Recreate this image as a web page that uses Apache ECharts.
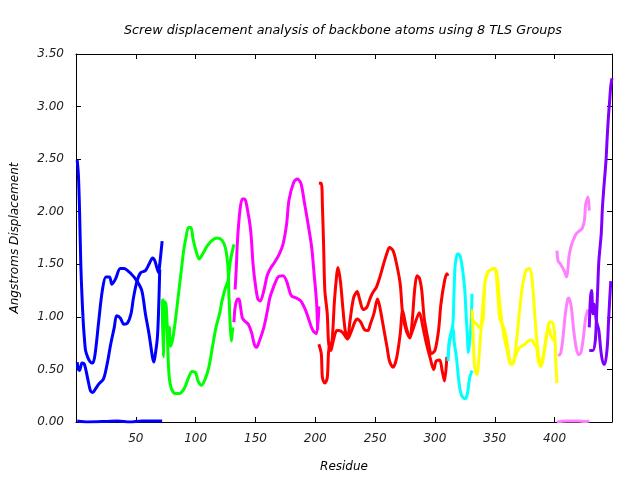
<!DOCTYPE html>
<html>
<head>
<meta charset="utf-8">
<script src="https://cdn.jsdelivr.net/npm/echarts@6/dist/echarts.min.js"></script>
<style>html,body{margin:0;padding:0;background:#fff}#c{width:640px;height:480px}</style>
</head>
<body>
<div id="c"></div>
<script>
const titleText = 'Screw displacement analysis of backbone atoms using 8 TLS Groups';
const xName = 'Residue';
const yName = 'Angstroms Displacement';
const xTicks = [50, 100, 150, 200, 250, 300, 350, 400];
const yTicks = [0, 0.5, 1, 1.5, 2, 2.5, 3, 3.5];

const blueA = [[1,2.49],[2,2.35],[3,2.0],[4,1.5],[5,1.2],[6,0.96],[7,0.80],[8,0.68],[10,0.61],[12,0.57],[14,0.56],[16,0.65],[19,0.96],[22,1.25],[25,1.38],[28,1.38],[30,1.31],[33,1.36],[37,1.46],[40,1.46],[46,1.41],[51,1.34],[55,1.25],[58,1.03],[61,0.84],[64,0.61],[65,0.57],[66,0.62],[68,0.80],[69,1.05],[70,1.45]];
const blueB = [[1,0.57],[2,0.50],[3,0.49],[5,0.56],[7,0.55],[10,0.40],[12,0.30],[14,0.28],[16,0.31],[19,0.36],[23,0.41],[26,0.55],[29,0.74],[32,0.90],[34,1.01],[37,0.99],[40,0.93],[43,0.94],[46,1.03],[48,1.18],[51,1.34],[54,1.42],[58,1.44],[61,1.50],[64,1.56],[66,1.53],[69,1.42],[70,1.50],[72,1.72]];
const blueC = [[1,0.01],[10,0.0],[25,0.005],[35,0.01],[45,0.0],[55,0.01],[65,0.01],[72,0.01]];

const greenA = [[72,1.15],[73,0.62],[74,1.12],[75,1.10],[77,0.77],[78,0.90],[79,0.72],[81,0.80],[83,0.96],[86,1.25],[88,1.44],[90,1.63],[92,1.76],[94,1.85],[96,1.85],[98,1.73],[101,1.60],[103,1.55],[106,1.60],[110,1.68],[114,1.73],[118,1.75],[122,1.73],[125,1.65],[127,1.47],[128,1.15],[130,0.77],[131,0.90]];
const greenB = [[72,1.17],[73,1.15],[75,1.13],[76,0.95],[77,0.61],[78,0.42],[80,0.31],[83,0.27],[86,0.27],[88,0.28],[91,0.33],[94,0.42],[97,0.48],[100,0.47],[102,0.39],[105,0.35],[108,0.41],[111,0.52],[114,0.71],[117,0.90],[120,1.03],[122,1.15],[125,1.28],[127,1.34],[129,1.53],[132,1.69]];

const magentaA = [[133,1.26],[134,1.47],[135,1.73],[137,2.01],[139,2.12],[141,2.12],[143,2.04],[146,1.82],[148,1.50],[150,1.30],[152,1.17],[154,1.15],[157,1.25],[160,1.40],[163,1.47],[166,1.52],[170,1.60],[173,1.69],[176,1.88],[178,2.11],[182,2.28],[185,2.31],[188,2.27],[191,2.08],[194,1.88],[197,1.66],[199,1.41],[201,1.15],[202,0.88]];
const magentaB = [[132,0.95],[133,1.09],[135,1.17],[136,1.17],[139,0.99],[141,0.96],[144,0.93],[147,0.84],[149,0.74],[151,0.71],[153,0.76],[157,0.90],[160,1.06],[162,1.18],[165,1.28],[169,1.38],[173,1.39],[176,1.34],[180,1.20],[184,1.18],[188,1.15],[192,1.06],[195,0.96],[198,0.87],[201,0.84],[203,1.10]];

const redA = [[203,2.27],[205,2.27],[206,2.04],[207,1.66],[208,1.25],[210,1.03],[211,0.77],[212,0.71],[214,0.77],[216,1.15],[218,1.41],[219,1.47],[221,1.34],[223,1.09],[225,0.87],[227,0.80],[229,0.96],[232,1.18],[235,1.24],[237,1.17],[240,1.07],[243,1.09],[246,1.18],[248,1.23],[251,1.28],[254,1.38],[257,1.50],[260,1.61],[262,1.66],[265,1.63],[268,1.50],[271,1.31],[273,1.03],[276,0.87],[279,0.80],[281,0.96],[283,1.25],[285,1.39],[287,1.37],[289,1.25],[291,0.99],[294,0.80],[297,0.65],[300,0.68],[303,0.87],[305,1.12],[308,1.34],[310,1.41],[311,1.39]];
const redB = [[203,0.74],[205,0.65],[206,0.42],[208,0.37],[210,0.42],[211,0.65],[212,0.75],[213,0.68],[215,0.77],[218,0.87],[220,0.87],[223,0.85],[227,0.79],[230,0.86],[233,0.95],[235,0.98],[238,0.95],[241,0.88],[244,0.87],[246,0.93],[249,1.03],[252,1.17],[254,1.09],[257,0.90],[260,0.71],[262,0.58],[265,0.52],[268,0.61],[271,0.84],[273,1.06],[276,0.90],[279,0.81],[281,0.86],[284,0.96],[287,1.04],[290,0.90],[293,0.74],[296,0.61],[299,0.50],[301,0.58],[304,0.59],[306,0.49],[308,0.39],[310,0.62]];

const cyanA = [[311,0.62],[312,0.75],[313,0.80],[315,0.93],[316,1.25],[317,1.50],[319,1.60],[321,1.58],[323,1.46],[325,1.25],[326,1.03],[327,0.84],[328,0.66],[330,0.90],[331,1.22]];
const cyanB = [[311,0.58],[312,0.77],[314,0.87],[315,0.90],[316,0.77],[318,0.61],[320,0.39],[322,0.26],[325,0.22],[327,0.26],[329,0.42],[331,0.49]];

const yellowA = [[331,1.07],[332,0.80],[333,0.55],[335,0.45],[336,0.50],[338,0.80],[340,1.10],[342,1.34],[344,1.42],[347,1.45],[350,1.46],[352,1.40],[354,1.15],[356,0.95],[358,0.80],[361,0.65],[363,0.55],[365,0.55],[368,0.75],[371,1.09],[373,1.28],[376,1.44],[379,1.46],[381,1.38],[383,1.09],[385,0.80],[387,0.61],[389,0.53],[391,0.65],[393,0.80],[396,0.95],[398,0.95],[400,0.84],[401,0.58],[402,0.37]];
const yellowB = [[331,1.00],[332,0.96],[335,0.93],[337,0.90],[340,0.96],[341,1.15],[342,1.34],[344,1.42],[347,1.45],[350,1.46],[352,1.30],[354,1.00],[356,0.93],[358,0.88],[360,0.78],[362,0.62],[364,0.55],[366,0.58],[368,0.65],[371,0.71],[375,0.74],[378,0.77],[381,0.78],[383,0.74],[385,0.71],[386,0.61],[388,0.53],[391,0.65],[393,0.80],[395,0.90],[397,0.82],[400,0.77]];

const pinkA = [[402,1.63],[403,1.53],[405,1.50],[408,1.44],[410,1.38],[411,1.44],[412,1.57],[414,1.68],[416,1.74],[418,1.79],[421,1.82],[423,1.84],[425,1.92],[426,2.07],[428,2.14],[429,2.01]];
const pinkB = [[403,0.63],[405,0.65],[407,0.80],[409,1.03],[411,1.17],[412,1.18],[414,1.09],[416,0.87],[418,0.71],[420,0.64],[422,0.66],[424,0.80],[426,0.99],[428,1.07]];
const pinkC = [[402,0.0],[405,0.005],[410,0.01],[415,0.01],[420,0.01],[425,0.005],[429,0.01]];

const purpleA = [[429,0.68],[432,0.68],[434,0.77],[435,0.99],[436,1.25],[437,1.53],[439,1.79],[440,2.04],[441,2.20],[443,2.49],[444,2.71],[445,2.90],[446,3.05],[447,3.20],[448,3.27]];
const purpleB = [[429,0.90],[430,1.18],[431,1.25],[432,1.03],[433,1.12],[435,0.96],[437,0.87],[439,0.65],[441,0.55],[442,0.55],[444,0.71],[445,0.93],[446,1.15],[447,1.34]];

const lines = [
  {data: blueA, color: '#0000ff'}, {data: blueB, color: '#0000ff'}, {data: blueC, color: '#0000ff'},
  {data: greenA, color: '#00ff00'}, {data: greenB, color: '#00ff00'},
  {data: magentaA, color: '#ff00ff'}, {data: magentaB, color: '#ff00ff'},
  {data: redA, color: '#ff0000'}, {data: redB, color: '#ff0000'},
  {data: cyanA, color: '#00ffff'}, {data: cyanB, color: '#00ffff'},
  {data: yellowA, color: '#ffff00'}, {data: yellowB, color: '#ffff00'},
  {data: pinkA, color: '#ff80ff'}, {data: pinkB, color: '#ff80ff'}, {data: pinkC, color: '#ff80ff'},
  {data: purpleA, color: '#8000ff'}, {data: purpleB, color: '#8000ff'}
];

const font = 'DejaVu Sans';
const textStyle = {fontFamily: font, fontStyle: 'italic', fontSize: 12, color: '#222'};
const chart = echarts.init(document.getElementById('c'), null, {renderer: 'canvas'});
const axisLineStyle = {show: true, onZero: false, lineStyle: {color: '#000', width: 1}};
const tickStyle = {show: true, inside: true, length: 5, lineStyle: {color: '#000'}};
chart.setOption({
  animation: false,
  backgroundColor: '#fff',
  title: {text: titleText, left: 119, top: 19,
    textStyle: {fontFamily: font, fontStyle: 'italic', fontSize: 12.75, fontWeight: 'normal', color: '#000'}},
  grid: {left: 76, right: 28, top: 54, bottom: 58},
  xAxis: [
    {type: 'value', min: 0, max: 448, interval: 50, position: 'bottom',
     name: xName, nameLocation: 'middle', nameGap: 39,
     nameTextStyle: {fontFamily: font, fontStyle: 'italic', fontSize: 12, color: '#000'},
     axisLine: axisLineStyle, axisTick: tickStyle,
     splitLine: {show: false},
     axisLabel: Object.assign({margin: 11, formatter: v => xTicks.indexOf(v) >= 0 ? String(v) : ''}, textStyle)},
    {type: 'value', min: 0, max: 448, interval: 50, position: 'top',
     axisLine: axisLineStyle, axisTick: tickStyle,
     splitLine: {show: false}, axisLabel: {show: false}}
  ],
  yAxis: [
    {type: 'value', min: 0, max: 3.5, interval: 0.5, position: 'left',
     name: yName, nameLocation: 'middle', nameGap: 55,
     nameTextStyle: {fontFamily: font, fontStyle: 'italic', fontSize: 12, color: '#000'},
     axisLine: axisLineStyle, axisTick: tickStyle,
     splitLine: {show: false},
     axisLabel: Object.assign({margin: 12, formatter: v => yTicks.some(t => Math.abs(t - v) < 1e-9) ? v.toFixed(2) : ''}, textStyle)},
    {type: 'value', min: 0, max: 3.5, interval: 0.5, position: 'right',
     axisLine: axisLineStyle, axisTick: tickStyle,
     splitLine: {show: false}, axisLabel: {show: false}}
  ],
  series: lines.map(l => ({
    type: 'line', xAxisIndex: 0, yAxisIndex: 0, data: l.data, showSymbol: false, symbol: 'none',
    smooth: 0.3, lineStyle: {color: l.color, width: 3}, itemStyle: {color: l.color}, clip: true
  }))
});
</script>
</body>
</html>
